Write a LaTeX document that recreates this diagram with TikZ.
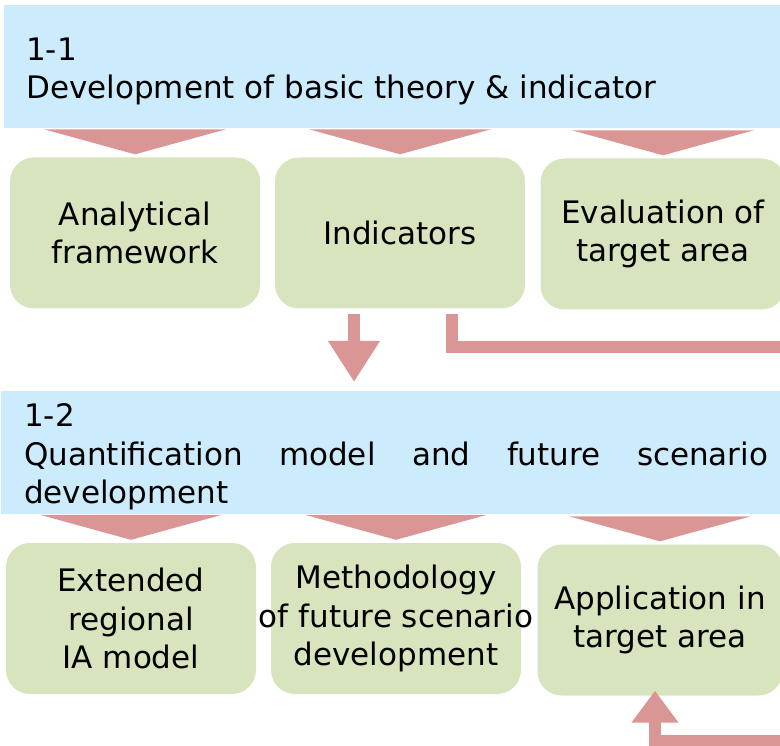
\documentclass[tikz,border=0pt]{standalone}
\usepackage{fontspec}
\setmainfont{DejaVu Sans}
\usetikzlibrary{arrows.meta}

\definecolor{banblue}{HTML}{CCEBFC}
\definecolor{stagegreen}{HTML}{D7E4BD}
\definecolor{flowred}{HTML}{D99694}

\begin{document}
\begin{tikzpicture}[x=1pt,y=-1pt,
    bigfont/.style={font=\fontsize{31}{38.5}\selectfont},
    banner/.style={rectangle, fill=banblue, anchor=north west, minimum width=800pt, minimum height=123pt, inner sep=0pt},
    bantext/.style={bigfont, anchor=north west, inner sep=0pt, align=left},
    stage/.style={rectangle, rounded corners=24pt, fill=stagegreen, minimum width=250pt, minimum height=151pt, inner sep=0pt, align=center, bigfont},
    chev/.style={fill=flowred},
    fat/.style={draw=flowred, line width=12pt}]
            \useasboundingbox (0,0) rectangle (780,746);
            \clip (0,0) rectangle (780,746);

            % 1-1
            \node[banner] (dev) at (3.5,5) {};
            \node[bantext] (devtxt) at ([shift={(22.5,32.4)}]dev.north west) {1-1\\Development of basic theory \& indicator};

            \node[stage] (af) at (135,233) {Analytical\\framework};
            \node[stage] (ind) at (400,233) {Indicators};
            \node[stage, minimum width=245pt] (eva) at (663,234) {Evaluation of\\target area};

            % 1-2
            \node[banner] (qm) at (1,391) {};
            \node[bantext] (qmtxt) at ([shift={(23,12.4)}]qm.north west)
                {1-2\\\makebox[744pt][s]{Quantification model and future scenario}\\development};

            \node[stage] (ext) at (131,618.5) {Extended\\regional\\IA model};
            \node[stage] (met) at (396,618.5) {Methodology\\\makebox[0pt]{of future scenario}\\development};
            \node[stage, minimum width=245pt] (app) at (660,620) {Application in\\target area};

            % chevrons from banners to boxes
            \foreach \b in {af,ind,eva,ext,met,app}
                \fill[chev] ([shift={(-91,-28)}]\b.north) -- ([shift={(91,-28)}]\b.north) -- ([shift={(0,-3)}]\b.north) -- cycle;

            \coordinate (offr) at (800,347);
            \coordinate (offb) at (800,741);

            \draw[fat, -{Triangle[width=49pt,length=41pt]}, shorten <=5pt, shorten >=9pt] ([xshift=-46pt]ind.south) -- ([xshift=-46pt]ind.south |- qm.north);
            \draw[fat, shorten <=5pt] ([xshift=52pt]ind.south) |- (offr);
            \draw[fat, -{Triangle[width=45pt,length=32pt]}, shorten >=-5pt] (offb) -| ([xshift=-5pt]app.south);
        \end{tikzpicture}
\end{document}
